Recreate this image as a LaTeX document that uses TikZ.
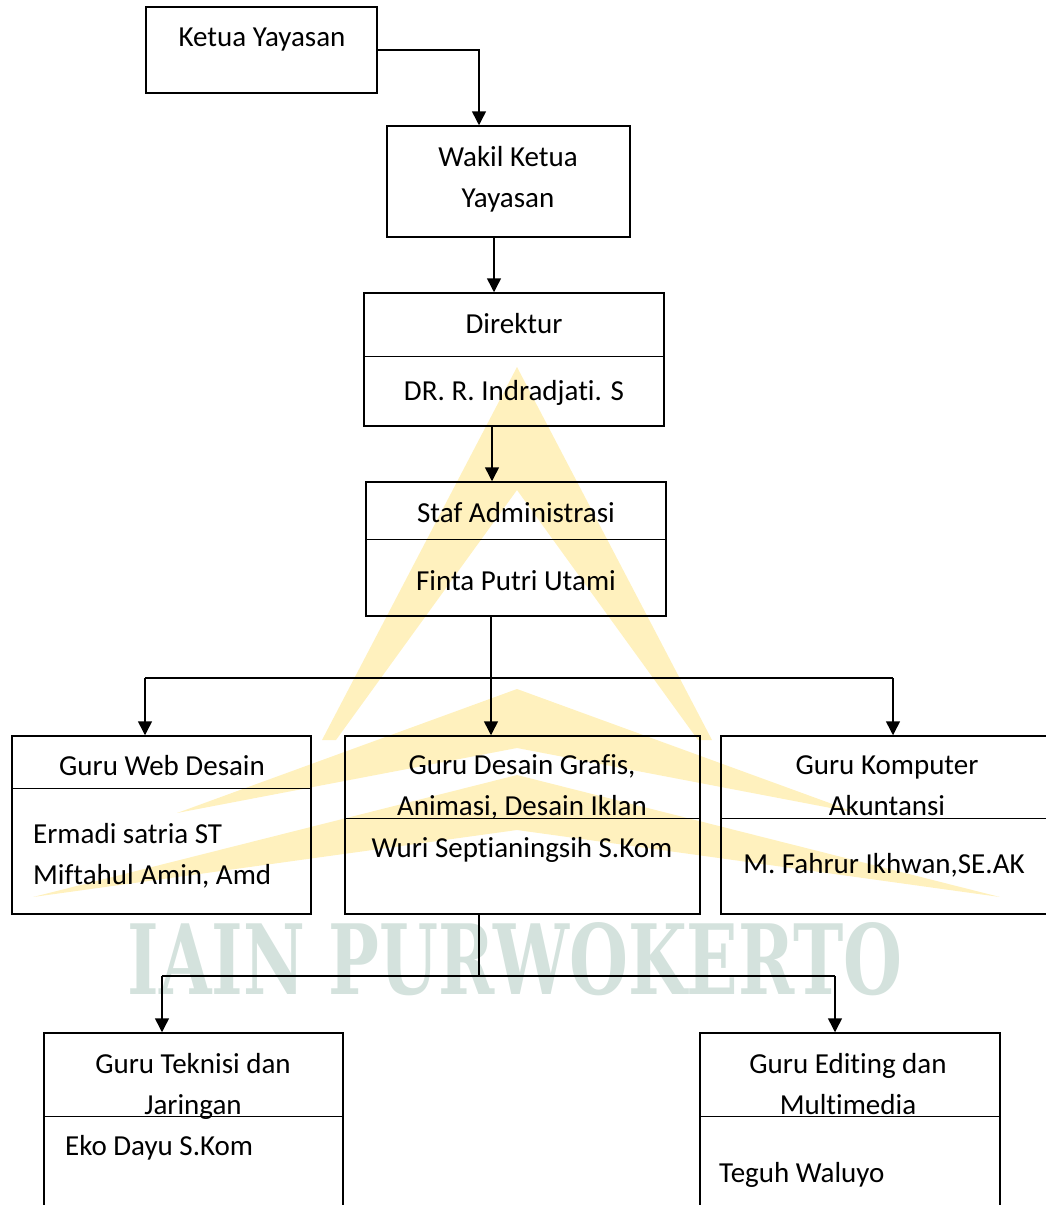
\documentclass[tikz,border=0pt]{standalone}
\usepackage{fontspec}
\setmainfont{Carlito}[Ligatures=NoCommon]
\newfontfamily\wmfont{DejaVu Serif}
\usetikzlibrary{arrows.meta,positioning,calc}
\definecolor{wmyellow}{RGB}{255,241,190}
\definecolor{wmgray}  {RGB}{212,226,221}
\tikzset{
  orgbox/.style={draw, line width=1.5pt, inner sep=0pt},
  txt/.style   ={font=\fontsize{29}{41}\selectfont, inner sep=0pt, anchor=base},
  ltxt/.style  ={txt, anchor=base west},
  divln/.style ={line width=1.5pt},
  ln/.style    ={line width=1.5pt},
  arr/.style   ={-{Triangle[length=14pt,width=14pt]}, line width=1.5pt},
  %% watermark
  wm/.style    ={inner sep=0pt, text=wmgray},
}

\begin{document}
\begin{tikzpicture}[x=1pt,y=-1pt]
  \useasboundingbox (0,0) rectangle (1046,1205);
  \clip (0,0) rectangle (1046,1205);
  % watermark
  \fill[wmyellow] (517,367) -- (712,740) -- (698,740) -- (517,490) -- (336,740) -- (322,740) -- cycle;
  \fill[wmyellow] (177,813) -- (517,689) -- (857,813) -- (517,748) -- cycle;
  \fill[wmyellow] (33,897) -- (517,775) -- (1000,897) -- (517,830) -- cycle;
  \node[wm] (wmtext) at (515,959) {\resizebox{775pt}{72pt}{\wmfont\bfseries IAIN PURWOKERTO}};

  % boxes
  \node[orgbox, minimum width=231pt, minimum height=86pt]  (ketua) at (261.5,50) {};
  \node[orgbox, minimum width=243pt, minimum height=111pt] (wakil) at (508.5,181.5) {};
  \node[orgbox, minimum width=300pt, minimum height=133pt] (dir)   at (514,359.5) {};
  \node[orgbox, minimum width=300pt, minimum height=134pt] (staf)  at (516,549) {};
  \node[orgbox, minimum width=299pt, minimum height=178pt] (web)   at (161.5,825) {};
  \node[orgbox, minimum width=355pt, minimum height=178pt] (graf)  at (522.5,825) {};
  \node[orgbox, minimum width=335pt, minimum height=178pt] (komp)  at (888.5,825) {};
  \node[orgbox, minimum width=299pt, minimum height=182pt] (tek)   at (193.5,1124) {};
  \node[orgbox, minimum width=300pt, minimum height=182pt] (edit)  at (850,1124) {};

  \draw[divln] ([yshift=-64pt]dir.north west)  -- ([yshift=-64pt]dir.north east);
  \draw[divln] ([yshift=-58pt]staf.north west) -- ([yshift=-58pt]staf.north east);
  \draw[divln] ([yshift=-53pt]web.north west)  -- ([yshift=-53pt]web.north east);
  \draw[divln] ([yshift=-83pt]graf.north west) -- ([yshift=-83pt]graf.north east);
  \draw[divln] ([yshift=-83pt]komp.north west) -- ([yshift=-83pt]komp.north east);
  \draw[divln] ([yshift=-84pt]tek.north west)  -- ([yshift=-84pt]tek.north east);
  \draw[divln] ([yshift=-84pt]edit.north west) -- ([yshift=-84pt]edit.north east);

  % texts
  \node[txt] (ketuat) at (262,46)  {Ketua Yayasan};
  \node[txt] (wakilt) at (508,166) {Wakil Ketua};
  \node[txt] (wakilu) at (508,207) {Yayasan};
  \node[txt] (dirt)   at (514,333) {Direktur};
  \node[txt] (dirn)   at (514,400) {DR. R. Indradjati. S};
  \node[txt] (staft)  at (516,522) {Staf Administrasi};
  \node[txt] (stafn)  at (516,590) {Finta Putri Utami};
  \node[txt] (webt)   at (162,775) {Guru Web Desain};
  \node[ltxt] (webn)  at (33,843)  {Ermadi satria ST};
  \node[ltxt] (webm)  at (33,884)  {Miftahul Amin, Amd};
  \node[txt] (graft)  at (522,774) {Guru Desain Grafis,};
  \node[txt] (grafu)  at (522,815) {Animasi, Desain Iklan};
  \node[txt] (grafn)  at (522,857) {Wuri Septianingsih S.Kom};
  \node[txt] (kompt)  at (887,774) {Guru Komputer};
  \node[txt] (kompu)  at (887,815) {Akuntansi};
  \node[txt] (kompn)  at (884,873) {M. Fahrur Ikhwan,SE.AK};
  \node[txt] (tekt)   at (193,1073) {Guru Teknisi dan};
  \node[txt] (teku)   at (193,1114) {Jaringan};
  \node[ltxt] (tekn)  at (65,1155)  {Eko Dayu S.Kom};
  \node[txt] (editt)  at (848,1073) {Guru Editing dan};
  \node[txt] (editu)  at (848,1114) {Multimedia};
  \node[ltxt] (editn) at (719,1182) {Teguh Waluyo};

  % connectors
  \coordinate (k) at (479,0);
  \coordinate (w) at (494,0);
  \coordinate (d) at (492,0);
  \coordinate (s)  at (491,678);
  \coordinate (bl) at (145,678);
  \coordinate (br) at (893,678);
  \coordinate (g)  at (479,976);
  \coordinate (gl) at (162,976);
  \coordinate (gr) at (835,976);
  \draw[arr](ketua.east) -| (k |- wakil.north);
  \draw[arr](w |- wakil.south) -- (w |- dir.north);
  \draw[arr](d |- dir.south) -- (d |- staf.north);
  \draw[ln](s |- staf.south) -- (s);
  \draw[ln](bl) -- (br);
  \draw[arr](bl) -- (bl |- web.north);
  \draw[arr](s) -- (s |- graf.north);
  \draw[arr](br) -- (br |- komp.north);
  \draw[ln](g |- graf.south) -- (g);
  \draw[ln](gl) -- (gr);
  \draw[arr](gl) -- (gl |- tek.north);
  \draw[arr](gr) -- (gr |- edit.north);
\end{tikzpicture}
\end{document}
